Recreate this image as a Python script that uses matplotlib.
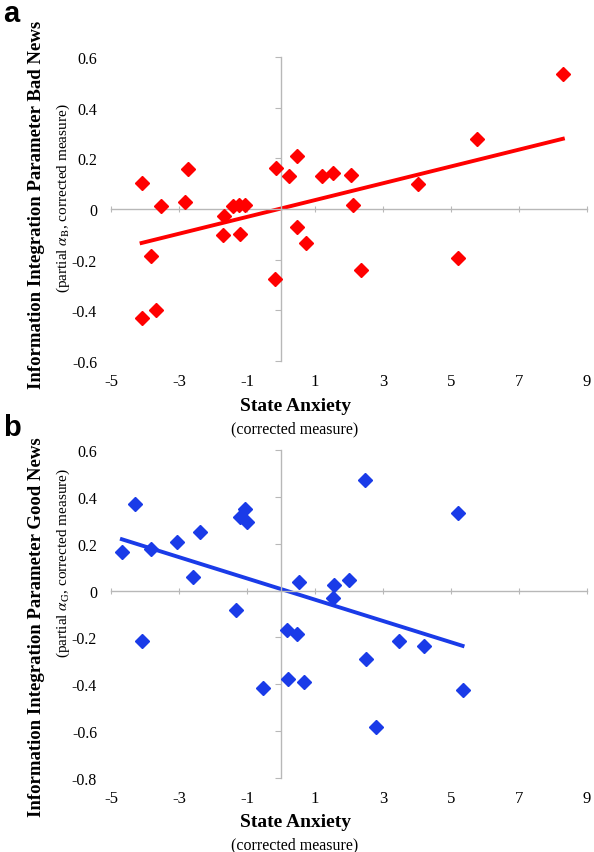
import numpy as np
import matplotlib
matplotlib.use('Agg')
import matplotlib.pyplot as plt

plt.rcParams['font.family'] = ['Liberation Serif', 'DejaVu Serif']
plt.rcParams['mathtext.fontset'] = 'stix'
plt.rcParams['axes.unicode_minus'] = False

# Panel a: state anxiety vs bad news integration parameter
anx_a = [-4.1, -3.52, -2.82, -2.74, -1.68, -1.4, -1.23, -1.07, -0.14, 0.23, 0.47,
         1.22, 1.52, 2.07, 2.12, 4.03, 5.76, 8.29,
         -3.83, -4.1, -3.68, -1.7, -1.21, -0.17, 0.47, 0.74, 2.34, 5.2]
bad_a = [0.104, 0.012, 0.026, 0.158, -0.029, 0.012, 0.017, 0.017, 0.162, 0.130, 0.209,
         0.130, 0.142, 0.136, 0.017, 0.100, 0.278, 0.534,
         -0.187, -0.432, -0.397, -0.101, -0.097, -0.278, -0.072, -0.136, -0.240, -0.192]
fit_a = [0.0332, 0.002]   # slope, intercept of trendline

# Panel b: state anxiety vs good news integration parameter
anx_b = [-4.68, -4.29, -3.83, -3.06, -2.59, -2.38, -1.31, -1.22, -1.06, -0.99,
         0.54, 1.56, 1.53, 2.0, 2.46, 5.2,
         -4.1, 0.18, 0.48, 3.47, 4.22, 2.5, -0.52, 0.21, 0.67, 5.34, 2.78]
good_b = [0.165, 0.369, 0.179, 0.206, 0.058, 0.251, -0.082, 0.313, 0.35, 0.293,
          0.035, 0.024, -0.031, 0.046, 0.47, 0.33,
          -0.215, -0.169, -0.184, -0.215, -0.238, -0.292, -0.416, -0.376, -0.39, -0.426, -0.584]
fit_b = [-0.0454, 0.0065]

xticks = [-5, -3, -1, 1, 3, 5, 7, 9]

W, H = 594, 853
fig = plt.figure(figsize=(W / 100, H / 100), dpi=100)


def panel(rect, x, y, fit, color, ylim, yticks, ylab, sub, letter, letter_y, xl_y, ylab_y, sub_y):
    ax = fig.add_axes(rect)
    ax.plot(x, y, 'D', color=color, markersize=7, zorder=3)
    # Excel style linear trendline over the data range
    xs = np.array([min(x), max(x)])
    ax.plot(xs, fit[0] * xs + fit[1], color=color, lw=2.8, zorder=2)
    ax.set_xlim(-5, 9)
    ax.set_ylim(*ylim)
    for s in ['top', 'right']:
        ax.spines[s].set_visible(False)
    ax.spines['left'].set_position(('data', 0))
    ax.spines['bottom'].set_position(('data', 0))
    for s in ['left', 'bottom']:
        ax.spines[s].set_color('#b8b8b8')
        ax.spines[s].set_linewidth(1.0)
    ax.set_xticks(xticks)
    ax.set_yticks(yticks)
    ax.tick_params(axis='x', direction='inout', length=5, color='#b8b8b8', labelbottom=False)
    ax.tick_params(axis='y', direction='out', length=4, color='#b8b8b8', labelleft=False)
    # labels sit at the low side like Excel
    sx = ax.secondary_xaxis('bottom')
    sx.set_xticks(xticks)
    sx.spines['bottom'].set_visible(False)
    sx.tick_params(length=0, labelsize=12, pad=9)
    sy = ax.secondary_yaxis('left')
    sy.set_yticks(yticks)
    sy.set_yticklabels([('%g' % v) for v in yticks])
    sy.spines['left'].set_visible(False)
    sy.tick_params(length=0, labelsize=11.5, pad=10)

    fig.text(3 / W, 1 - letter_y / H, letter, family='Liberation Sans', weight='bold',
             fontsize=21, ha='left', va='baseline')
    fig.text(295 / W, 1 - xl_y / H, 'State Anxiety', weight='bold', fontsize=14,
             ha='center', va='center')
    fig.text(295 / W, 1 - (xl_y + 22) / H, '(corrected measure)', fontsize=11.5,
             ha='center', va='center')
    fig.text(37 / W, 1 - ylab_y / H, ylab, weight='bold', fontsize=13.5, rotation=90,
             ha='center', va='center')
    fig.text(63 / W, 1 - sub_y / H, sub, fontsize=11, rotation=90,
             ha='center', va='center')
    return ax


panel([111 / W, 1 - 362 / H, 476 / W, 304 / H], anx_a, bad_a, fit_a, '#ff0000',
      (-0.6, 0.6), [-0.6, -0.4, -0.2, 0, 0.2, 0.4, 0.6],
      'Information Integration Parameter Bad News',
      r'(partial $\alpha_{\mathrm{B}}$, corrected measure)', 'a', 22, 407, 205, 198)

panel([111 / W, 1 - 779 / H, 476 / W, 328 / H], anx_b, good_b, fit_b, '#1a3be8',
      (-0.8, 0.6), [-0.8, -0.6, -0.4, -0.2, 0, 0.2, 0.4, 0.6],
      'Information Integration Parameter Good News',
      r'(partial $\alpha_{\mathrm{G}}$, corrected measure)', 'b', 436, 823, 627, 563)

plt.savefig('out.png', dpi=100)
